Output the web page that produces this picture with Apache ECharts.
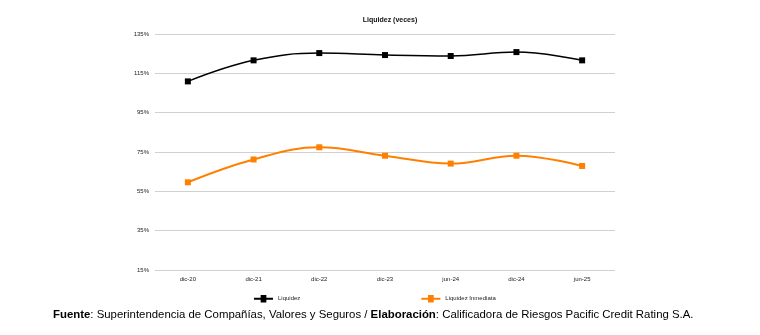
<!DOCTYPE html>
<html><head><meta charset="utf-8">
<script src="https://cdn.jsdelivr.net/npm/echarts@6/dist/echarts.min.js"></script>
<style>html,body{margin:0;padding:0;background:#fff}#c{width:760px;height:335px}</style>
</head><body><div id="c"></div>
<script>
const categories = ['dic-20','dic-21','dic-22','dic-23','jun-24','dic-24','jun-25'];
const liquidez = [110.9, 121.6, 125.3, 124.3, 123.8, 125.8, 121.6];
const liquidezInmediata = [59.6, 71.2, 77.4, 73.1, 69.1, 73.1, 67.9];
const yTicks = [15, 35, 55, 75, 95, 115, 135];
const seriesNames = ['Liquidez', 'Liquidez Inmediata'];
const titleText = 'Liquidez (veces)';

const chart = echarts.init(document.getElementById('c'), null, {renderer:'canvas'});
const font = 'Liberation Sans, Arial, sans-serif';
chart.setOption({
  animation:false,
  title:{text:titleText,left:385,textAlign:'center',top:12,textStyle:{fontSize:7,fontWeight:'bold',color:'#111',fontFamily:font}},
  grid:{left:155,right:145,top:34,bottom:65},
  legend:{
    data:seriesNames.map(n=>({name:n,icon:'path://M0,4 L7,4 L7,1 L13,1 L13,4 L20,4 L20,6 L13,6 L13,9 L7,9 L7,6 L0,6 Z'})),
    left:254,top:295,padding:0,itemWidth:19,itemHeight:8,itemGap:121,
    textStyle:{fontSize:6,color:'#222',fontFamily:font}
  },
  xAxis:{type:'category',data:categories,boundaryGap:true,
    axisLine:{show:false},axisTick:{show:false},
    axisLabel:{fontSize:6,color:'#222',margin:6,fontFamily:font}},
  yAxis:{type:'value',min:yTicks[0],max:yTicks[yTicks.length-1],interval:20,
    axisLine:{show:false},axisTick:{show:false},
    splitLine:{lineStyle:{color:'#d0d0d0',width:1}},
    axisLabel:{fontSize:6,color:'#222',margin:6,formatter:'{value}%',fontFamily:font}},
  series:[
    {name:seriesNames[0],type:'line',data:liquidez,smooth:0.4,symbol:'rect',symbolSize:6,
      lineStyle:{color:'#000',width:1.5},itemStyle:{color:'#000'}},
    {name:seriesNames[1],type:'line',data:liquidezInmediata,smooth:0.4,symbol:'rect',symbolSize:6,
      lineStyle:{color:'#ff8000',width:2},itemStyle:{color:'#ff8000'}}
  ],
  graphic:[{type:'text',left:53,top:309,style:{
    text:'{b|Fuente}: Superintendencia de Compañías, Valores y Seguros / {b|Elaboración}: Calificadora de Riesgos Pacific Credit Rating S.A.',
    fontSize:11.4,fontFamily:font,fill:'#000',
    rich:{b:{fontWeight:'bold',fontSize:11.4,fontFamily:font}}
  }}]
});
</script></body></html>
